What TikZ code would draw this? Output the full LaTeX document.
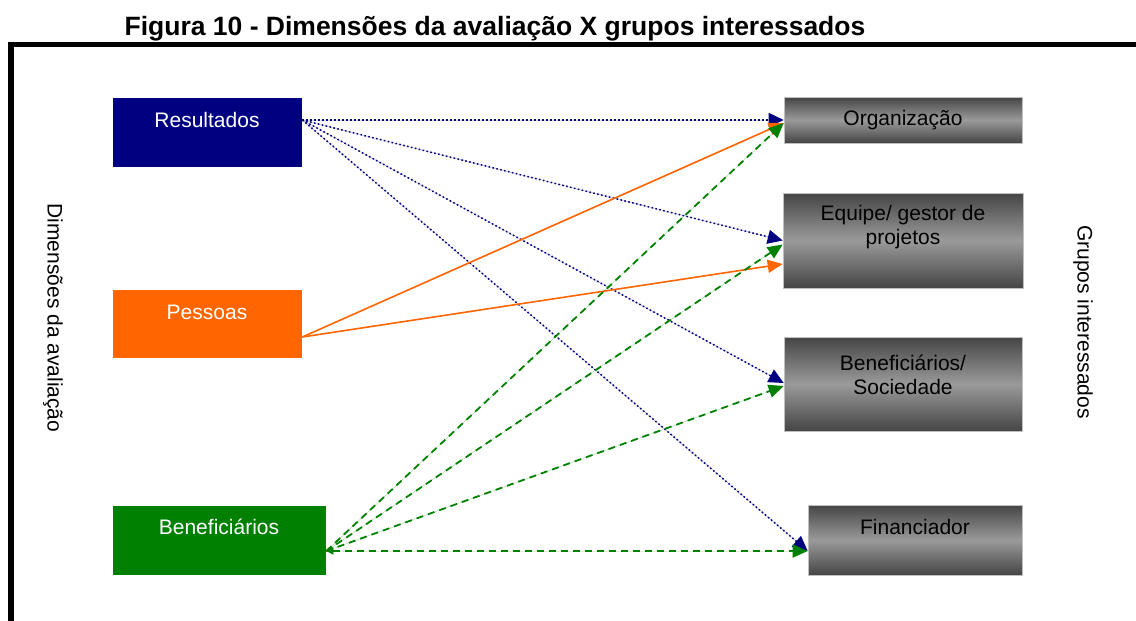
\documentclass[tikz,border=0pt]{standalone}
\usepackage{fontspec}
\setmainfont{Liberation Sans}
\usetikzlibrary{arrows.meta,calc}
\definecolor{navyb}{HTML}{000080}
\definecolor{orng}{HTML}{FF6600}
\definecolor{grn}{HTML}{008000}
\definecolor{gdark}{HTML}{454545}
\definecolor{glight}{HTML}{9A9A9A}
\tikzset{
  dimbox/.style={rectangle, inner sep=0pt, draw=white, line width=0.6pt},
  grpbox/.style={rectangle, inner sep=0pt, draw=black!25, line width=0.6pt,
    top color=gdark, bottom color=gdark, middle color=glight},
  boxtext/.style={font=\fontsize{21}{24}\selectfont, align=center, inner sep=0pt},
  sidetext/.style={rotate=-90, font=\fontsize{21}{24}\selectfont, inner sep=0pt},
  bluearr/.style={draw=navyb, line width=1.5pt, dash pattern=on 1.6pt off 2.4pt,
    -{Triangle[length=15pt,width=14pt]}, fill=navyb},
  orarr/.style={draw=orng, line width=1.6pt, -{Triangle[length=15pt,width=13pt]}, fill=orng},
  grarr/.style={draw=grn, line width=1.8pt, dash pattern=on 7pt off 5pt,
    -{Triangle[length=15pt,width=13pt]}, fill=grn},
}
\begin{document}
\begin{tikzpicture}[x=1pt,y=-1pt]
\useasboundingbox (0,0) rectangle (1136,621);
\fill[white] (0,0) rectangle (1136,621);
% frame
\draw[line width=5.5pt] (11,630) -- (11,44.5) -- (1145,44.5);
% title
\node[font=\fontsize{26.5}{30}\selectfont\bfseries, inner sep=0pt] (title) at (495,28.5) {Figura 10 - Dimensões da avaliação X grupos interessados};
% side labels
\node[sidetext] (dimlab) at (53,318) {Dimensões da avaliação};
\node[sidetext] (grplab) at (1083,322) {Grupos interessados};
% left boxes
\node[dimbox, fill=navyb, minimum width=190pt, minimum height=70pt] (res) at (207,132) {};
\node[dimbox, fill=orng, minimum width=190pt, minimum height=69pt] (pes) at (207,323.5) {};
\node[dimbox, fill=grn, minimum width=214pt, minimum height=70pt] (ben) at (219,540) {};
\node[boxtext, text=white] (rest) at (207,120) {Resultados};
\node[boxtext, text=white] (pest) at (207,312) {Pessoas};
\node[boxtext, text=white] (bent) at (219,527) {Beneficiários};
% right boxes
\node[grpbox, minimum width=238pt, minimum height=46pt] (org) at (903,120) {};
\node[grpbox, minimum width=240pt, minimum height=95pt] (equ) at (903,240.5) {};
\node[grpbox, minimum width=238pt, minimum height=94pt] (soc) at (903,384) {};
\node[grpbox, minimum width=214pt, minimum height=70pt] (fin) at (915,540) {};
\node[boxtext] (orgt) at (903,120) {Organização};
\node[boxtext] (equt) at (903,227) {Equipe/ gestor de\\projetos};
\node[boxtext] (soct) at (903,375) {Beneficiários/\\Sociedade};
\node[boxtext] (fint) at (915,527) {Financiador};
% blue dotted connectors
\draw[bluearr] ([yshift=12pt]res.east) -- ([yshift=0pt]org.west);
\draw[bluearr] ([yshift=12pt]res.east) -- ([yshift=0pt]equ.west);
\draw[bluearr] ([yshift=12pt]res.east) -- ([yshift=1pt]soc.west);
\draw[bluearr] ([yshift=12pt]res.east) -- ([yshift=-11pt]fin.west);
% orange connectors
\draw[orarr] ([yshift=-13.5pt]pes.east) -- ([yshift=-3pt]org.west);
\draw[orarr] ([yshift=-13.5pt]pes.east) -- ([yshift=-23.5pt]equ.west);
% green dashed connectors
\draw[grarr] ([yshift=-11pt]ben.east) -- ([yshift=-3pt]org.west);
\draw[grarr] ([yshift=-11pt]ben.east) -- ([yshift=-4pt]equ.west);
\draw[grarr] ([yshift=-11pt]ben.east) -- ([yshift=-2pt]soc.west);
\draw[grarr, {Triangle[length=7pt,width=7pt]}-{Triangle[length=15pt,width=13pt]}] ([yshift=-11pt]ben.east) -- ([yshift=-11pt]fin.west);
\end{tikzpicture}
\end{document}
